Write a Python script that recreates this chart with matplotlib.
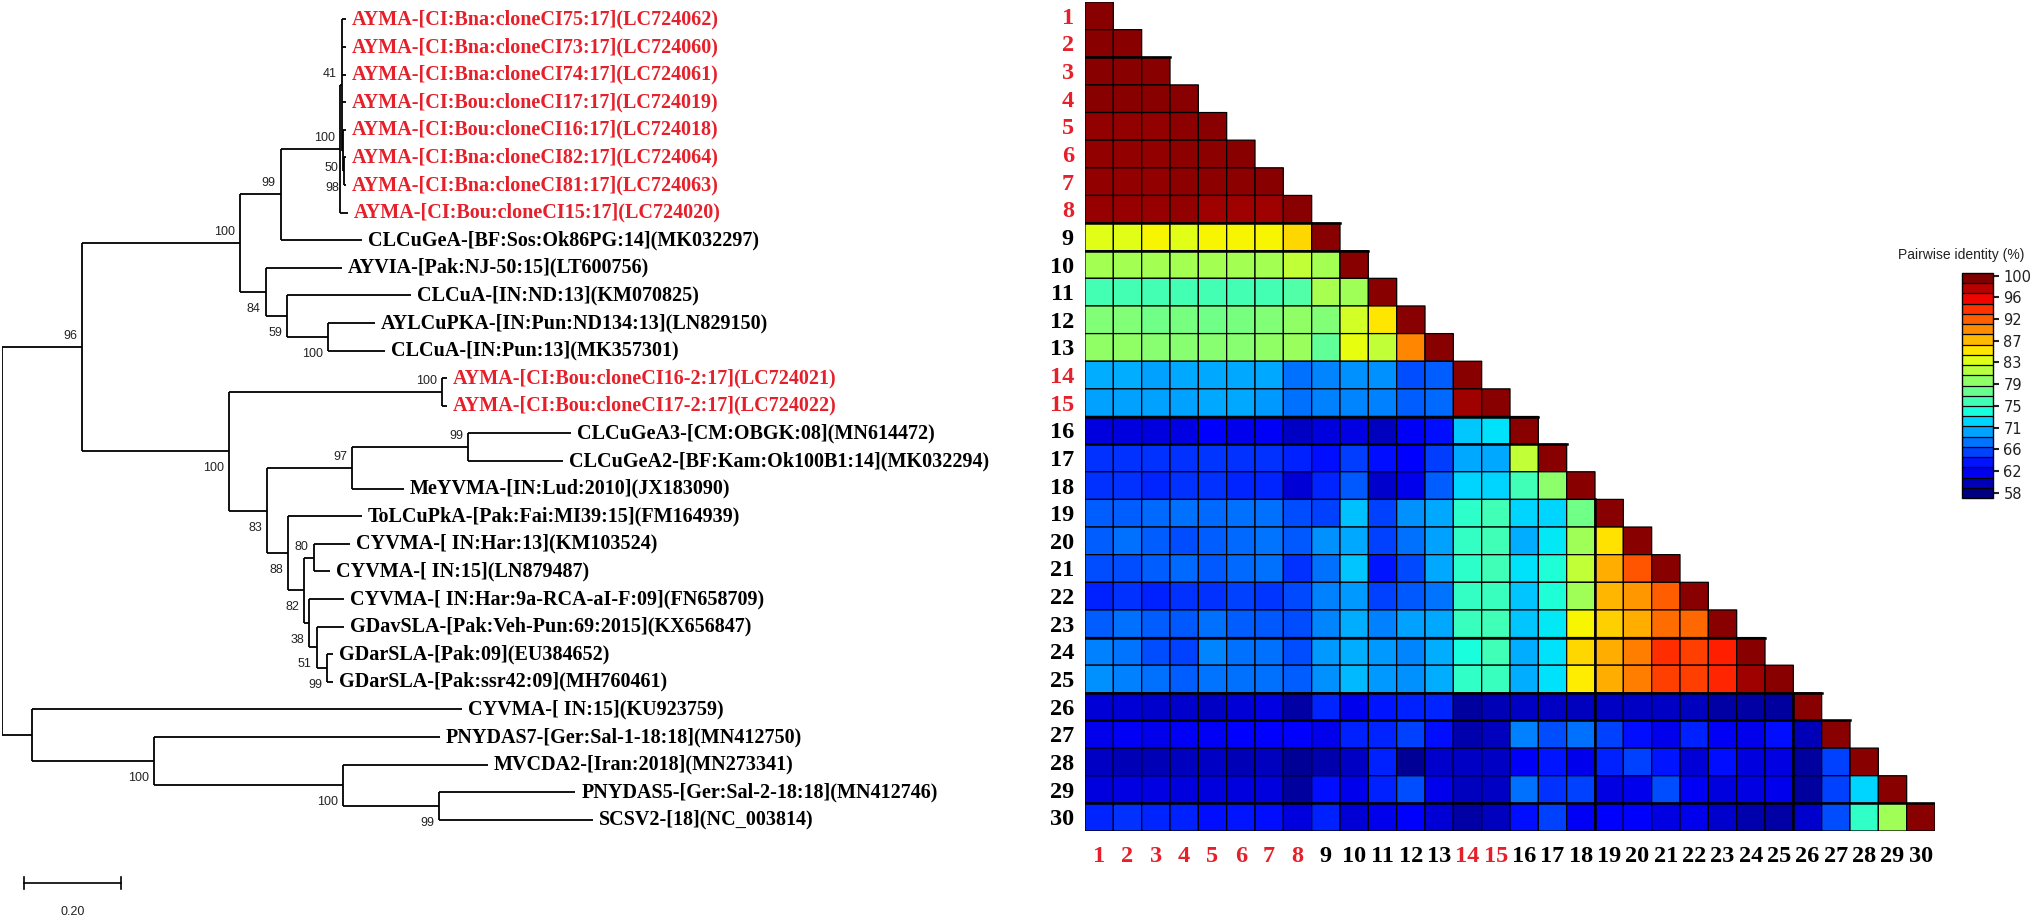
import numpy as np
import matplotlib
matplotlib.use('Agg')
import matplotlib.pyplot as plt
from matplotlib.colors import Normalize
import matplotlib.cm as cm


# Phylogenetic tree (left) + pairwise identity triangle (right).

tip_names = [
    'AYMA-[CI:Bna:cloneCI75:17](LC724062)',
    'AYMA-[CI:Bna:cloneCI73:17](LC724060)',
    'AYMA-[CI:Bna:cloneCI74:17](LC724061)',
    'AYMA-[CI:Bou:cloneCI17:17](LC724019)',
    'AYMA-[CI:Bou:cloneCI16:17](LC724018)',
    'AYMA-[CI:Bna:cloneCI82:17](LC724064)',
    'AYMA-[CI:Bna:cloneCI81:17](LC724063)',
    'AYMA-[CI:Bou:cloneCI15:17](LC724020)',
    'CLCuGeA-[BF:Sos:Ok86PG:14](MK032297)',
    'AYVIA-[Pak:NJ-50:15](LT600756)',
    'CLCuA-[IN:ND:13](KM070825)',
    'AYLCuPKA-[IN:Pun:ND134:13](LN829150)',
    'CLCuA-[IN:Pun:13](MK357301)',
    'AYMA-[CI:Bou:cloneCI16-2:17](LC724021)',
    'AYMA-[CI:Bou:cloneCI17-2:17](LC724022)',
    'CLCuGeA3-[CM:OBGK:08](MN614472)',
    'CLCuGeA2-[BF:Kam:Ok100B1:14](MK032294)',
    'MeYVMA-[IN:Lud:2010](JX183090)',
    'ToLCuPkA-[Pak:Fai:MI39:15](FM164939)',
    'CYVMA-[ IN:Har:13](KM103524)',
    'CYVMA-[ IN:15](LN879487)',
    'CYVMA-[ IN:Har:9a-RCA-aI-F:09](FN658709)',
    'GDavSLA-[Pak:Veh-Pun:69:2015](KX656847)',
    'GDarSLA-[Pak:09](EU384652)',
    'GDarSLA-[Pak:ssr42:09](MH760461)',
    'CYVMA-[ IN:15](KU923759)',
    'PNYDAS7-[Ger:Sal-1-18:18](MN412750)',
    'MVCDA2-[Iran:2018](MN273341)',
    'PNYDAS5-[Ger:Sal-2-18:18](MN412746)',
    'SCSV2-[18](NC_003814)',
]
red_ids = [1, 2, 3, 4, 5, 6, 7, 8, 14, 15]

# distance from the root for each tip
tip_depth = [0.709, 0.709, 0.709, 0.709, 0.709, 0.709, 0.709, 0.713, 0.742, 0.701,
             0.843, 0.769, 0.790, 0.918, 0.918, 1.173, 1.157, 0.829, 0.742, 0.718,
             0.676, 0.705, 0.705, 0.682, 0.682, 0.948, 0.903, 1.002, 1.182, 1.219]

# internal nodes: name, depth, children, bootstrap, label above the node?
node_names = ['root', 'n96', 'n100a', 'n99a', 'n100c', 'n41', 'n50', 'n98a',
              'n84', 'n59', 'n100d', 'n100b', 'n100e', 'n83', 'n97', 'n99b',
              'n88', 'n82', 'n80', 'n38', 'n51', 'n99c', 'nb', 'n100f', 'n100g', 'n99d']
node_depth = [0.0, 0.165, 0.491, 0.575, 0.697, 0.700, 0.703, 0.706,
              0.544, 0.588, 0.672, 0.468, 0.907, 0.546, 0.722, 0.961,
              0.590, 0.623, 0.643, 0.633, 0.649, 0.670, 0.062, 0.313, 0.703, 0.901]
node_children = [
    ['n96', 'nb'], ['n100a', 'n100b'], ['n99a', 'n84'], ['n100c', 't9'],
    ['n41', 't8'], ['t1', 't2', 't3', 't4', 'n50'], ['t5', 'n98a'], ['t6', 't7'],
    ['t10', 'n59'], ['t11', 'n100d'], ['t12', 't13'], ['n100e', 'n83'],
    ['t14', 't15'], ['n97', 'n88'], ['n99b', 't18'], ['t16', 't17'],
    ['t19', 'n82'], ['n80', 'n38'], ['t20', 't21'], ['t22', 'n51'],
    ['t23', 'n99c'], ['t24', 't25'], ['t26', 'n100f'], ['t27', 'n100g'],
    ['t28', 'n99d'], ['t29', 't30'],
]
node_support = [None, 96, 100, 99, 100, 41, 50, 98, 84, 59, 100, 100, 100, 83, 97, 99,
                88, 82, 80, 38, 51, 99, None, 100, 100, 99]
node_label_above = [False, True, True, True, True, True, False, False, False, False, False,
                    False, True, False, True, True, False, False, True, False, False,
                    False, False, False, False, False]

# pairwise identity (%), lower triangle, row i has i values
identity = [
    [100],
    [100, 100],
    [100, 100, 100],
    [100, 100, 100, 100],
    [99.8, 99.8, 99.8, 99.9, 100],
    [99.8, 99.8, 99.8, 99.9, 99.9, 100],
    [99.7, 99.7, 99.7, 99.9, 99.9, 99.9, 100],
    [99.6, 99.6, 99.6, 99.7, 99.2, 99.2, 99.2, 100],
    [84.1, 84.1, 85.3, 84.1, 85.3, 85.3, 85.3, 86.6, 100],
    [80.9, 80.9, 80.9, 80.9, 80.9, 80.9, 80.9, 82.4, 80.9, 100],
    [75.8, 75.8, 75.8, 75.8, 75.8, 75.8, 75.8, 76.4, 81.1, 80.7, 100],
    [79.0, 79.0, 78.1, 78.5, 78.1, 78.5, 79.0, 79.8, 79.0, 83.2, 85.9, 100],
    [79.8, 79.8, 79.4, 79.4, 79.4, 79.4, 79.8, 80.3, 77.3, 84.5, 82.4, 90.4, 100],
    [69.9, 69.9, 69.3, 69.6, 69.6, 69.6, 69.6, 67.2, 68.2, 68.6, 68.6, 65.8, 66.5, 100],
    [69.3, 69.3, 69.3, 69.3, 69.6, 69.6, 68.9, 67.2, 67.9, 68.2, 67.9, 66.5, 66.9, 99.2, 100],
    [60.6, 60.6, 60.6, 60.9, 62.2, 61.2, 61.5, 59.7, 60.6, 60.9, 59.4, 61.5, 63.1, 71.1, 72.0,
     100],
    [64.5, 64.5, 64.5, 64.5, 64.8, 64.5, 64.5, 63.8, 63.1, 65.0, 63.1, 62.4, 65.0, 69.6, 69.6,
     82.4, 100],
    [64.5, 64.5, 64.1, 64.5, 64.5, 64.1, 64.1, 60.3, 64.1, 66.2, 60.0, 61.2, 66.5, 71.6, 71.6,
     75.6, 79.6, 100],
    [66.5, 66.5, 66.9, 67.2, 66.9, 67.2, 67.2, 65.8, 65.2, 70.6, 65.2, 68.6, 69.6, 74.6, 75.6,
     71.6, 71.6, 78.1, 100],
    [66.5, 67.2, 66.5, 65.8, 66.5, 66.9, 67.5, 66.2, 68.6, 69.6, 65.2, 67.2, 69.3, 75.0, 75.6,
     69.9, 72.3, 80.7, 86.2, 100],
    [65.8, 65.8, 66.5, 66.9, 66.2, 66.9, 67.2, 64.5, 67.2, 70.9, 63.4, 65.5, 69.6, 74.6, 75.6,
     72.0, 73.9, 82.4, 88.5, 92.6, 100],
    [63.8, 64.5, 63.8, 64.5, 64.5, 65.2, 64.8, 65.5, 67.9, 68.9, 65.2, 66.2, 67.5, 75.0, 75.2,
     70.9, 73.9, 80.7, 88.1, 89.5, 92.2, 100],
    [66.5, 67.2, 66.5, 66.2, 67.2, 66.5, 66.2, 65.8, 68.2, 69.9, 67.9, 69.3, 69.6, 75.2, 75.6,
     70.9, 72.3, 85.3, 87.0, 88.5, 91.5, 91.8, 100],
    [67.9, 67.5, 65.8, 65.2, 68.2, 67.2, 67.2, 65.8, 68.9, 69.9, 68.9, 68.2, 69.9, 73.5, 75.6,
     69.9, 72.0, 86.6, 88.5, 90.7, 94.4, 93.6, 95.1, 100],
    [68.6, 67.9, 67.2, 66.5, 67.5, 67.2, 67.2, 66.5, 68.6, 70.3, 68.9, 68.6, 69.9, 74.8, 75.2,
     69.9, 72.0, 85.7, 88.5, 90.7, 93.6, 93.6, 94.8, 99.2, 100],
    [60.3, 60.3, 60.0, 60.0, 59.7, 60.3, 60.9, 58.5, 64.1, 61.2, 63.4, 63.8, 64.1, 58.2, 59.1,
     59.7, 59.7, 59.4, 59.7, 59.7, 59.7, 59.4, 58.5, 58.5, 58.2, 100],
    [61.2, 61.5, 61.2, 61.5, 61.5, 62.2, 62.2, 62.4, 61.2, 63.8, 64.1, 65.2, 63.1, 58.8, 59.4,
     67.9, 65.8, 67.2, 65.2, 63.1, 61.2, 63.8, 61.5, 61.2, 63.1, 59.1, 100],
    [59.7, 59.1, 59.1, 59.4, 59.7, 59.1, 59.4, 57.9, 58.8, 59.7, 63.8, 57.9, 60.0, 59.7, 59.7,
     61.5, 63.4, 61.2, 63.8, 65.2, 63.4, 60.3, 63.1, 60.6, 60.9, 58.2, 65.2, 100],
    [60.6, 60.9, 60.9, 60.6, 60.6, 60.6, 60.6, 58.2, 63.1, 61.2, 63.8, 65.8, 61.2, 59.4, 59.7,
     67.2, 64.5, 65.2, 60.9, 61.2, 65.8, 61.5, 60.6, 60.9, 61.2, 58.2, 65.2, 71.6, 100],
    [64.1, 64.5, 64.1, 63.8, 63.1, 63.4, 63.1, 60.6, 63.8, 60.3, 61.2, 62.2, 60.3, 58.5, 59.4,
     63.1, 65.2, 61.5, 62.2, 62.2, 60.9, 61.2, 60.0, 58.8, 58.5, 60.0, 65.8, 74.8, 80.7, 100],
]

cbar_ticks = [58, 62.2, 66.4, 70.6, 74.8, 79, 83.2, 87.4, 91.6, 95.8, 100]
cbar_title = 'Pairwise identity (%)'
scale_len = 0.20

# grid boundaries that show up heavier in the original export
thick_rows = [2, 8, 9, 15, 16, 23, 25, 26, 29]
thick_cols = [(18, 19), (25, 26)]   # (boundary after column, first row)

RED = '#e5202a'
W, H = 2031, 919
px = 485.0          # pixels per tree distance unit
row_h = 27.6        # pixels per tip / heatmap row
y0 = 19.4           # pixel y of tip 1

fig = plt.figure(figsize=(W / 100, H / 100), dpi=100)

# ---------------- tree ----------------
tree_w = 1000
axt = fig.add_axes([2 / W, 0, tree_w / W, 1])
axt.set_xlim(0, tree_w / px)
axt.set_ylim(1 + (H - y0) / row_h, 1 - y0 / row_h)
axt.axis('off')

nodes = {n: (d, c) for n, d, c in zip(node_names, node_depth, node_children)}


def depth_of(name):
    if name.startswith('t'):
        return tip_depth[int(name[1:]) - 1]
    return nodes[name][0]


def y_of(name):
    if name.startswith('t'):
        return int(name[1:])
    ch = nodes[name][1]
    return (y_of(ch[0]) + y_of(ch[-1])) / 2.0


lw = 1.3
for name in node_names:
    d, ch = nodes[name]
    axt.plot([d, d], [y_of(ch[0]), y_of(ch[-1])], color='black', lw=lw,
             solid_capstyle='butt')
    for c in ch:
        axt.plot([d, depth_of(c)], [y_of(c), y_of(c)], color='black', lw=lw,
                 solid_capstyle='butt')

for name, sup, above in zip(node_names, node_support, node_label_above):
    if sup is None:
        continue
    d = nodes[name][0]
    yy = y_of(name) + (-0.40 if above else 0.62)
    axt.text(d - 5 / px, yy, str(sup), ha='right', va='center', fontsize=9,
             family='Liberation Sans', color='#222222')

for i, name in enumerate(tip_names):
    col = RED if (i + 1) in red_ids else 'black'
    axt.text(tip_depth[i] + 6 / px, i + 1, name, ha='left', va='center',
             fontsize=14.5, family='Liberation Serif', fontweight='bold', color=col)

# scale bar
sb_y = 1 + (883 - y0) / row_h
sb_x = 22 / px
axt.plot([sb_x, sb_x + scale_len], [sb_y, sb_y], color='black', lw=1.2)
for xx in (sb_x, sb_x + scale_len):
    axt.plot([xx, xx], [sb_y - 0.22, sb_y + 0.22], color='black', lw=1.2)
axt.text(sb_x + scale_len / 2, 1 + (912 - y0) / row_h, '%.2f' % scale_len,
         ha='center', va='center', fontsize=9, family='Liberation Sans', color='#222222')

# ---------------- heatmap ----------------
n = len(identity)
mat = np.full((n, n), np.nan)
for i, row in enumerate(identity):
    mat[i, :len(row)] = row
mat = np.ma.masked_invalid(mat)

norm = Normalize(vmin=57, vmax=100.5)
axh = fig.add_axes([1085 / W, 1 - 831 / H, 850 / W, 829 / H])
edges = np.arange(0.5, n + 1)
axh.pcolor(edges, edges, mat, cmap='jet', norm=norm, edgecolors='black', linewidths=0.9)
for r in thick_rows:
    axh.plot([0.5, r + 1.5], [r + 0.5, r + 0.5], color='black', lw=1.8)
for c, r0 in thick_cols:
    axh.plot([c + 0.5, c + 0.5], [r0 - 0.5, n + 0.5], color='black', lw=1.8)
axh.set_xlim(0.5, n + 0.5)
axh.set_ylim(n + 0.5, 0.5)
for s in axh.spines.values():
    s.set_visible(False)

ids = list(range(1, n + 1))
axh.set_xticks(ids)
axh.set_yticks(ids)
axh.set_xticklabels([str(i) for i in ids])
axh.set_yticklabels([str(i) for i in ids])
axh.tick_params(length=0)
axh.tick_params(axis='x', pad=11)
axh.tick_params(axis='y', pad=8)
for lab_list in (axh.get_xticklabels(), axh.get_yticklabels()):
    for i, lab in enumerate(lab_list):
        lab.set_fontfamily('Liberation Serif')
        lab.set_fontweight('bold')
        lab.set_fontsize(17.5)
        lab.set_color(RED if (i + 1) in red_ids else 'black')

# ---------------- colour bar ----------------
cax = fig.add_axes([1962 / W, 1 - 498 / H, 31 / W, 225 / H])
sm = cm.ScalarMappable(norm=norm, cmap=plt.get_cmap('jet', 22))
cb = fig.colorbar(sm, cax=cax, drawedges=True)
cb.outline.set_edgecolor('black')
cb.outline.set_linewidth(1.0)
cb.dividers.set_color('black')
cb.dividers.set_linewidth(0.9)
cb.set_ticks(cbar_ticks)
cb.set_ticklabels(['%d' % round(t) for t in cbar_ticks])
cax.tick_params(length=4, width=1.5, labelsize=10.5, colors='#222222')
fig.text(1961 / W, 1 - 255 / H, cbar_title, ha='center', va='center',
         fontsize=10, family='Liberation Sans', color='#222222')

fig.savefig('out.png', dpi=100)
